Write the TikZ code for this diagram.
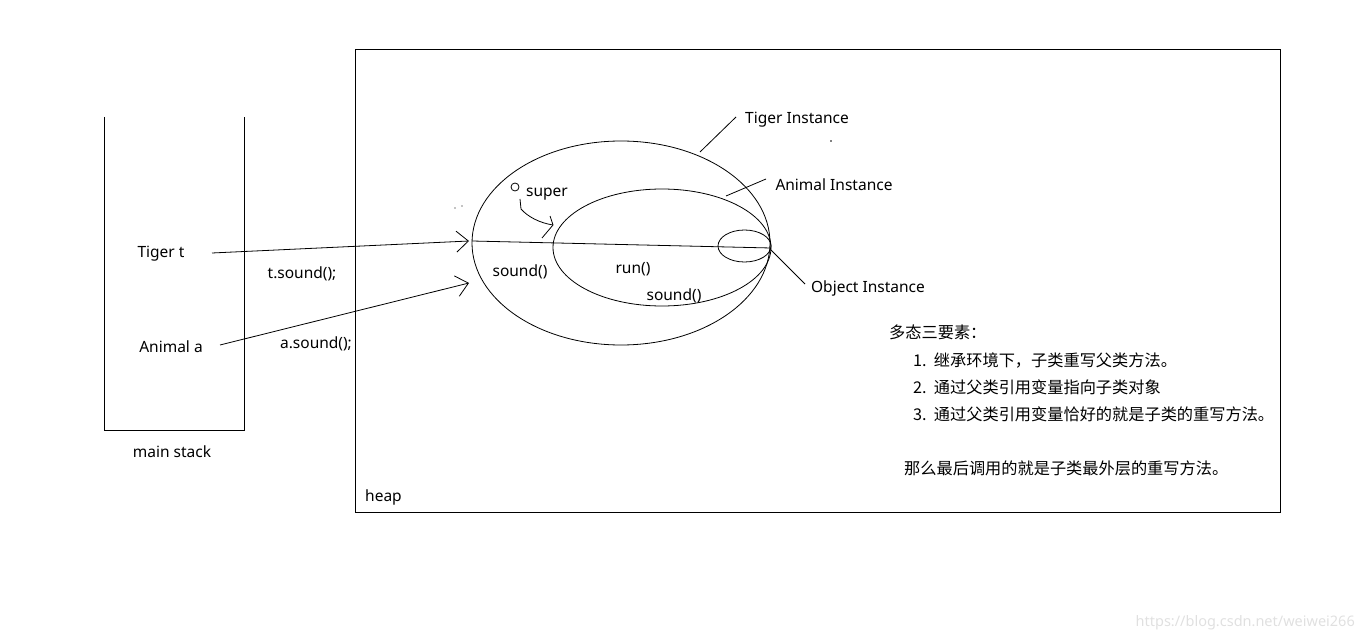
\documentclass[tikz,border=0pt]{standalone}
\usepackage{fontspec}
\setmainfont{Noto Sans}
\newfontfamily\cjk{Noto Sans CJK SC}
\usetikzlibrary{shapes.geometric,arrows.meta}
\begin{document}
\begin{tikzpicture}[x=1pt,y=-1pt,
  ln/.style={line width=0.8pt},
  lbl/.style={inner sep=0pt,font=\fontsize{15.5}{18}\selectfont},
  zh/.style={inner sep=0pt,anchor=west,font=\cjk\fontsize{16.2}{19}\selectfont},
  ell/.style={ellipse,draw,line width=0.8pt,inner sep=0pt},
  ptr/.style={line width=0.8pt,-{Straight Barb[length=12pt,width=21pt,line width=0.8pt]}}]
\useasboundingbox (0,0) rectangle (1365,644);
% main stack
\draw[ln] (104,117) -- (104,430) -- (244,430) -- (244,117);
\node[lbl] (ms) at (172,452) {main stack};
% heap
\node[draw,ln,minimum width=925pt,minimum height=463pt,inner sep=0pt] (heap) at (817.5,280.5) {};
\node[lbl,anchor=west] (hp) at (365,497) {heap};
% ellipses
\node[ell,minimum width=298pt,minimum height=204pt] (tiger) at (621,243) {};
\node[ell,minimum width=218pt,minimum height=117pt] (animal) at (662,247.5) {};
\node[ell,minimum width=53pt,minimum height=32pt] (object) at (744.5,246) {};
\coordinate (lineL) at (472,241);
\coordinate (lineR) at (771,248);
\draw[ln] (lineL) -- (lineR);
% stack variables
\node[lbl] (tt) at (161,254) {Tiger t};
\node[lbl] (aa) at (171,347) {Animal a};
\coordinate (tend) at (469,241);
\coordinate (aend) at (469,283);
\draw[ptr] (212,253) -- (tend);
\draw[ptr] (220,345) -- (aend);
\node[lbl] (ts) at (302,274) {t.sound();};
\node[lbl] (as) at (316,344) {a.sound();};
% labels
\node[lbl] (ti) at (797,120) {Tiger Instance};
\node[lbl] (ai) at (834,185) {Animal Instance};
\node[lbl] (oi) at (868,288) {Object Instance};
\draw[ln] (700,152) -- (736,117);
\draw[ln] (726,196) -- (766,179);
\draw[ln] (771,250) -- (805,284);
\node[lbl] (sup) at (547,194) {super};
\node[lbl] (s1) at (520,272) {sound()};
\node[lbl] (run) at (633,269) {run()};
\node[lbl] (s2) at (674,296) {sound()};
% super marker
\node[circle,draw,ln,minimum size=8pt,inner sep=0pt] (dot) at (515,187) {};
\draw[ln] (520,199) -- (521,209) .. controls (528,217) and (540,223) .. (553,225);
\draw[ln] (550,216) -- (553,225) -- (542,238);
% stray marks
\fill (455,208) circle (0.7pt);
\fill (462,206) circle (0.7pt);
\fill (831,141) circle (0.9pt);
% Chinese notes
\node[zh] (z0) at (889,332) {多态三要素：};
\node[zh] (z1) at (913,361) {1.\ \ 继承环境下，子类重写父类方法。};
\node[zh] (z2) at (913,387) {2.\ \ 通过父类引用变量指向子类对象};
\node[zh] (z3) at (913,414) {3.\ \ 通过父类引用变量恰好的就是子类的重写方法。};
\node[zh] (z4) at (904,468) {那么最后调用的就是子类最外层的重写方法。};
% watermark
\node[inner sep=0pt,font=\fontsize{14.5}{17}\selectfont,text=black!12,anchor=east] (wm) at (1355,623) {https://blog.csdn.net/weiwei266};
\end{tikzpicture}
\end{document}
